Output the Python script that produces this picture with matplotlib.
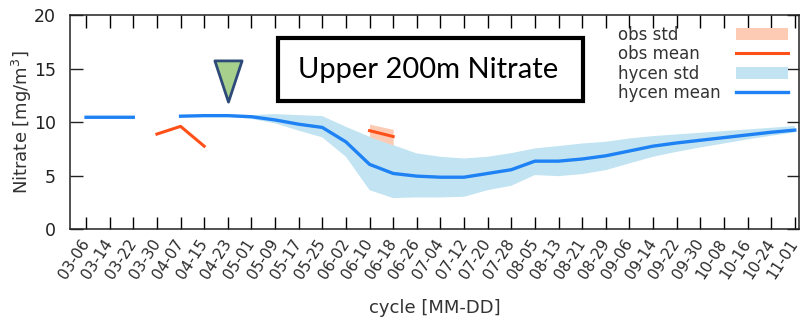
import numpy as np
import matplotlib
matplotlib.use('Agg')
import matplotlib.pyplot as plt
from matplotlib.patches import Rectangle
from matplotlib.path import Path

plt.rcParams['font.family'] = ['DejaVu Sans']

# cycle labels (MM-DD)
cycles = ['03-06', '03-14', '03-22', '03-30', '04-07', '04-15', '04-23', '05-01',
          '05-09', '05-17', '05-25', '06-02', '06-10', '06-18', '06-26', '07-04',
          '07-12', '07-20', '07-28', '08-05', '08-13', '08-21', '08-29', '09-06',
          '09-14', '09-22', '09-30', '10-08', '10-16', '10-24', '11-01']
nan = np.nan

# hycen model (upper 200m nitrate)
hycen_mean = [10.45, 10.45, 10.45, nan, 10.55, 10.6, 10.6, 10.5, 10.2, 9.8, 9.5,
              8.15, 6.05, 5.2, 4.95, 4.85, 4.85, 5.2, 5.55, 6.35, 6.35, 6.55,
              6.85, 7.3, 7.75, 8.05, 8.3, 8.55, 8.8, 9.05, 9.25]
hycen_lo = [10.4, 10.4, 10.4, nan, 10.5, 10.55, 10.5, 10.3, 9.88, 9.2, 8.57,
            6.76, 3.64, 2.9, 2.96, 2.96, 3.02, 3.64, 4.05, 5.05, 4.95, 5.14,
            5.51, 6.14, 6.76, 7.22, 7.63, 8.0, 8.38, 8.72, 9.03]
hycen_hi = [10.5, 10.5, 10.5, nan, 10.6, 10.65, 10.7, 10.65, 10.75, 10.65, 10.56,
            9.56, 8.63, 7.85, 7.07, 6.76, 6.6, 6.76, 7.1, 7.54, 7.76, 8.0,
            8.16, 8.47, 8.69, 8.85, 9.0, 9.16, 9.31, 9.47, 9.63]

# observations (float profiles)
obs_mean = [nan, nan, nan, 8.88, 9.6, 7.75, nan, nan, nan, nan, nan, nan,
            9.2, 8.65, nan, nan, nan, nan, nan, nan, nan, nan, nan, nan,
            nan, nan, nan, nan, nan, nan, nan]
obs_lo = [nan] * 12 + [8.63, 7.85] + [nan] * 17
obs_hi = [nan] * 12 + [9.81, 9.32] + [nan] * 17

marker_cycle = '04-23'
marker_level = 13.85
title_text = 'Upper 200m Nitrate'

x = np.arange(len(cycles))

fig = plt.figure(figsize=(8, 3.2), dpi=100)
ax = fig.add_axes([0.0875, 0.284, 0.911, 0.669])

obs_band = ax.fill_between(x, obs_lo, obs_hi, color='#fdcbb4', lw=0,
                           label='obs std', zorder=3)
obs_line, = ax.plot(x, obs_mean, color='#ff5019', lw=2.2, label='obs mean',
                    zorder=4)
hy_band = ax.fill_between(x, hycen_lo, hycen_hi, color='#c2e4f2', lw=0,
                          label='hycen std', zorder=1)
hy_line, = ax.plot(x, hycen_mean, color='#1e82f5', lw=2.4, label='hycen mean',
                   zorder=2)

# timing marker (downward triangle)
tri = Path([(-0.33, 0.5), (0.33, 0.5), (0.0, -0.5), (-0.33, 0.5)],
           [Path.MOVETO, Path.LINETO, Path.LINETO, Path.CLOSEPOLY])
ax.scatter([cycles.index(marker_cycle)], [marker_level], marker=tri, s=880,
           facecolor='#a6d08c', edgecolor='#2e4a78', linewidth=2, zorder=5)

ax.set_xlim(-0.68, 30.17)
ax.set_ylim(0, 20)
ax.set_xticks(x)
ax.set_xticklabels(cycles, rotation=57, ha='right', va='center',
                   rotation_mode='anchor', fontsize=11, color='#2a2a2a')
ax.set_yticks([0, 5, 10, 15, 20])
ax.tick_params(axis='y', labelsize=12.5, colors='#222222')
ax.tick_params(direction='in', length=9, width=1, top=True, right=True,
               pad=8)
ax.tick_params(axis='y', pad=10)
ax.set_xlabel('cycle [MM-DD]', fontsize=13, color='#333333', labelpad=13)
ax.set_ylabel('Nitrate [mg/m$^3$]', fontsize=13, color='#333333')
ax.yaxis.set_label_coords(-0.050, 0.5)
for s in ax.spines.values():
    s.set_color('#222222')
    s.set_linewidth(1.1)

# legend: labels left-aligned, keys in a column on the right
handles = [obs_band, obs_line, hy_band, hy_line]
labels = [h.get_label() for h in handles]
leg_kw = dict(frameon=False, fontsize=12, labelspacing=0.08, borderpad=0,
              borderaxespad=0, bbox_transform=fig.transFigure)
leg_txt = ax.legend(handles, labels, loc='upper left', handlelength=0,
                    handletextpad=0, bbox_to_anchor=(618 / 800, 1 - 26 / 320),
                    **leg_kw)
for h in leg_txt.legend_handles:
    h.set_visible(False)
for t in leg_txt.get_texts():
    t.set_color('#333333')
ax.add_artist(leg_txt)
leg_key = ax.legend(handles, [' '] * len(handles), loc='upper right',
                    markerfirst=False, handlelength=3.1, handletextpad=0,
                    bbox_to_anchor=(788 / 800, 1 - 26 / 320), **leg_kw)

# title box
fig.patches.append(Rectangle((278 / 800, 1 - 101 / 320), 305 / 800, 63 / 320,
                             transform=fig.transFigure, facecolor='white',
                             edgecolor='black', linewidth=3, zorder=10))
fig.text(428 / 800, 1 - 70 / 320, title_text, ha='center', va='center',
         fontsize=21, family='Lato', zorder=11)

fig.savefig('out.png', dpi=100)
